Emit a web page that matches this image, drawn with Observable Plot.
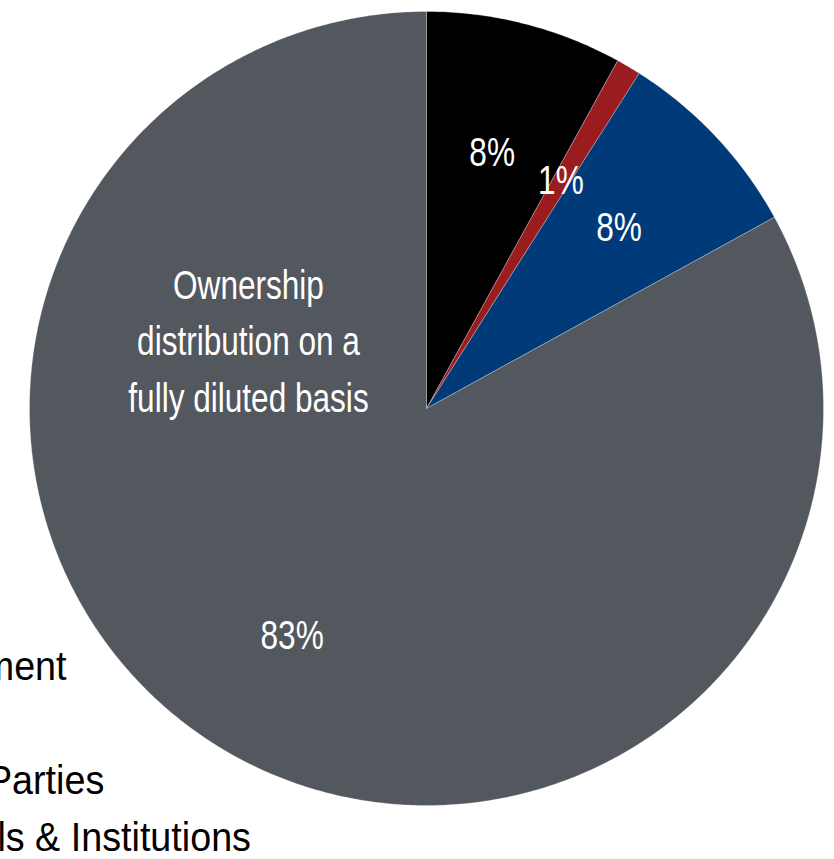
<!DOCTYPE html>
<html>
<head>
<meta charset="utf-8">
<script src="https://cdn.jsdelivr.net/npm/d3@7"></script>
<script src="https://cdn.jsdelivr.net/npm/@observablehq/plot@0.6"></script>
<style>
  html, body { margin: 0; padding: 0; background: #ffffff; overflow: hidden; }
  #chart svg { display: block; }
</style>
</head>
<body>
<div id="chart"></div>
<script>
// ---- data ----
const categories = ["Management", "Board", "Related Parties", "Individuals & Institutions"];
const shares = [8, 1, 8, 83];
const colors = ["#000000", "#9a1c1f", "#003a78", "#53575e"];
const centerTitle = "Ownership\ndistribution on a\nfully diluted basis";

// ---- layout ----
const W = 834, H = 859;
const CX = 426, CY = 408, R = 397;
const FONT = "'Liberation Sans', Arial, sans-serif";
const toX = px => (px - CX) / R;
const toY = py => (CY - py) / R;

// slices from cumulative shares (clockwise from 12 o'clock)
const total = d3.sum(shares);
let acc = 0;
const slices = categories.map((name, i) => {
  const a0 = acc / total * 2 * Math.PI;
  acc += shares[i];
  const a1 = acc / total * 2 * Math.PI;
  return {name, value: shares[i], a0, a1, mid: (a0 + a1) / 2};
});

// outline of each slice: centre + arc
const outline = [];
for (const s of slices) {
  outline.push({name: s.name, x: 0, y: 0});
  const n = Math.max(2, Math.ceil((s.a1 - s.a0) / (Math.PI / 360)));
  for (let k = 0; k <= n; k++) {
    const a = s.a0 + (s.a1 - s.a0) * k / n;
    outline.push({name: s.name, x: Math.sin(a), y: Math.cos(a)});
  }
  outline.push({name: s.name, x: 0, y: 0});
}

const LABEL_R = 0.665;
const pctLabels = slices.map(s => ({
  text: `${s.value}%`,
  x: LABEL_R * Math.sin(s.mid),
  y: LABEL_R * Math.cos(s.mid)
}));

const legendRows = categories.map((name, i) => ({
  name,
  x: toX(-154),
  y: toY(666 + i * 57)
}));

const chart = Plot.plot({
  width: W,
  height: H,
  margin: 0,
  style: {background: "#ffffff", fontFamily: FONT},
  x: {domain: [-1, 1], range: [CX - R, CX + R], axis: null},
  y: {domain: [-1, 1], range: [CY + R, CY - R], axis: null},
  color: {domain: categories, range: colors},
  marks: [
    Plot.line(outline, {
      x: "x", y: "y", z: "name", fill: "name",
      stroke: "#ffffff", strokeWidth: 0.6, strokeOpacity: 0.45
    }),
    Plot.text(pctLabels, {
      x: "x", y: "y", text: "text",
      fill: "#ffffff", fontSize: 41, fontFamily: FONT
    }),
    Plot.text([centerTitle], {
      x: toX(248), y: toY(337), text: d => d,
      fill: "#ffffff", fontSize: 41, lineHeight: 1.37, fontFamily: FONT
    }),
    Plot.text(legendRows, {
      x: "x", y: "y", text: "name", textAnchor: "start",
      fill: "#000000", fontSize: 41, fontFamily: FONT
    })
  ]
});

// condensed look: horizontal squeeze of each text group about its anchor
const squeeze = [0.77, 0.77, 0.92];
chart.querySelectorAll('g[aria-label="text"]').forEach((g, gi) => {
  const sx = squeeze[gi] ?? 1;
  g.querySelectorAll("text").forEach(t => {
    const tr = t.getAttribute("transform") || "";
    t.setAttribute("transform", `${tr} scale(${sx},1)`);
  });
});

document.getElementById("chart").appendChild(chart);
</script>
</body>
</html>
